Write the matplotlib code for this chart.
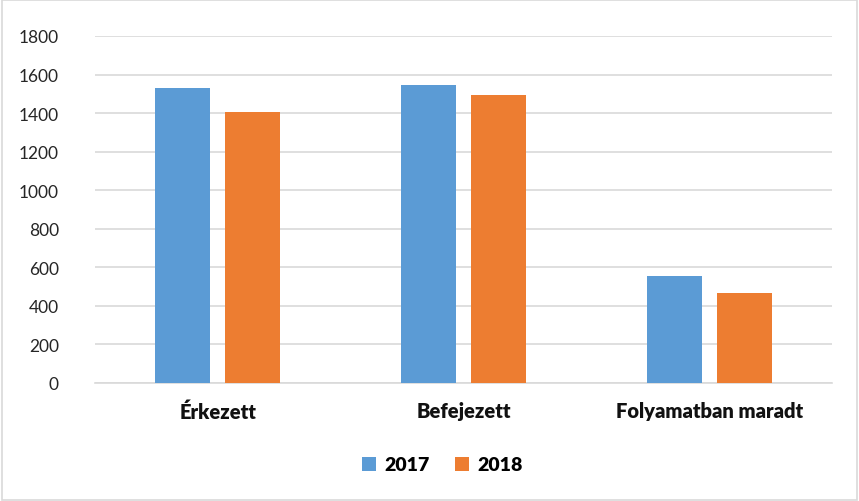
import numpy as np
import matplotlib
matplotlib.use('Agg')
import matplotlib.pyplot as plt
from matplotlib.patches import Rectangle

plt.rcParams['font.family'] = ['Lato', 'DejaVu Sans']

# Adatok
kategoriak = ['Érkezett', 'Befejezett', 'Folyamatban maradt']
ev_2017 = [1530, 1547, 554]
ev_2018 = [1406, 1494, 467]
evek = ['2017', '2018']
y_ticks = [0, 200, 400, 600, 800, 1000, 1200, 1400, 1600, 1800]

kek = '#5b9bd5'
narancs = '#ed7d31'

fig = plt.figure(figsize=(8.59, 5.02), dpi=100)
ax = fig.add_axes([95/859, 1 - 384/502, 737/859, 347/502])

x = np.arange(len(kategoriak))
w = 0.224
off = 0.142
ax.bar(x - off, ev_2017, w, color=kek, label=evek[0], zorder=3)
ax.bar(x + off, ev_2018, w, color=narancs, label=evek[1], zorder=3)

ax.set_xlim(-0.5, 2.5)
ax.set_ylim(0, 1800)
ax.set_yticks(y_ticks)
ax.set_yticklabels([str(v) for v in y_ticks], fontsize=12.5, color='#262626')
ax.set_xticks(x)
ax.set_xticklabels(kategoriak, fontsize=14.5, fontweight='heavy', color='#111111')
ax.tick_params(axis='y', length=0, pad=26)
ax.tick_params(axis='x', length=0, pad=13)
ax.grid(axis='y', color='#d9d9d9', linewidth=1.2, zorder=0)
for s in ['top', 'right', 'left']:
    ax.spines[s].set_visible(False)
ax.spines['bottom'].set_color('#d9d9d9')
ax.spines['bottom'].set_linewidth(1.2)

leg = fig.legend(loc='center', bbox_to_anchor=(442/859, 1 - 466/502), ncol=2,
                 frameon=False, prop={'size': 14, 'weight': 'heavy'},
                 handlelength=0.75, handleheight=0.75, handletextpad=0.4,
                 columnspacing=1.3)

fig.patches.append(Rectangle((0.002, 0.002), 0.996, 0.996, transform=fig.transFigure,
                             fill=False, edgecolor='#d9d9d9', linewidth=1.2))

fig.savefig('out.png', dpi=100)
